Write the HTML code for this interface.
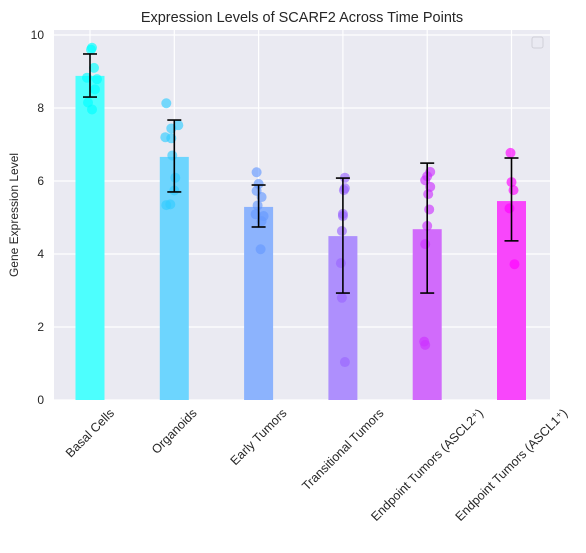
<!DOCTYPE html>
<html><head><meta charset="utf-8"><style>
body{margin:0;background:#fff;}
svg text{font-family:"Liberation Sans",Arial,sans-serif;fill:#262626;}
</style></head><body>
<svg id="chart" width="586" height="548" xmlns="http://www.w3.org/2000/svg"></svg>
<script>
const categories=["Basal Cells","Organoids","Early Tumors","Transitional Tumors","Endpoint Tumors (ASCL2\u207A)","Endpoint Tumors (ASCL1\u207A)"];
const means=[8.88,6.66,5.29,4.49,4.68,5.45];
const errLow=[8.30,5.70,4.74,2.93,2.93,4.36];
const errHigh=[9.48,7.67,5.89,6.08,6.49,6.63];
const points=[
[9.65,9.6,9.1,8.83,8.79,8.51,8.15,7.96],
[8.13,7.44,7.53,7.2,7.17,6.70,6.09,5.74,5.34,5.36],
[6.24,5.92,5.73,5.56,5.33,5.09,5.04,4.90,4.13],
[6.09,5.80,5.75,5.10,5.04,4.63,3.75,2.80,1.04],
[6.25,6.13,6.02,5.84,5.64,5.22,4.77,4.27,1.60,1.51],
[6.77,5.97,5.75,5.25,3.72]];
const jitter=[[2,1,4,-3,7,5,-2,2],[-8,-3,4,-9,-3,-2,1,0,-8,-4],[-2,0,-2,3,-1,-3,5,3,2],[2,2,1,0,0,-1,-2,-1,2],[3,0,-2,3,1,2,0,-2,-3,-2],[-1,0,2,-2,3]];
const yTicks=[0,2,4,6,8,10];
const barCol=["#4dfffe","#6dd5fe","#8cb3fd","#ae8ffd","#d16bfb","#f846fb"];
const ptCol=["#00ffff","#33ccff","#6699ff","#9966ff","#cc33ff","#ff00ff"];
const L=54,R=550,T=30,B=400;
const xs=i=>90+i*84.3;
const ys=v=>B-v*36.5;
const svg=document.getElementById('chart');
const NS="http://www.w3.org/2000/svg";
function mk(t,a,p){const e=document.createElementNS(NS,t);for(const k in a)e.setAttribute(k,a[k]);(p||svg).appendChild(e);return e;}
let e=mk('rect',{x:L,y:T,width:R-L,height:B-T,fill:'#eaeaf2'});


yTicks.forEach(v=>{
 let g=mk('line',{x1:L,x2:R,y1:ys(v),y2:ys(v),stroke:'#fff','stroke-width':1.2});
 
 
 let t=mk('text',{x:L-10,y:ys(v)+4,'text-anchor':'end','font-size':12});
 t.textContent=v;
 
 
});
categories.forEach((c,i)=>{
 let g=mk('line',{x1:xs(i),x2:xs(i),y1:T,y2:B,stroke:'#fff','stroke-width':1.2});
 
 
});
categories.forEach((c,i)=>{
 let b=mk('rect',{x:xs(i)-14.5,y:ys(means[i]),width:29,height:B-ys(means[i]),fill:barCol[i]});
 
 
 points[i].forEach((v,j)=>{
  let p=mk('circle',{cx:xs(i)+(jitter[i][j]||0),cy:ys(v),r:5,fill:ptCol[i],'fill-opacity':0.65});
  
  
 });
 let x=xs(i);
 let g=mk('g',{stroke:'#000','stroke-width':1.6});
 
 
 mk('line',{x1:x,x2:x,y1:ys(errLow[i]),y2:ys(errHigh[i])},g);
 mk('line',{x1:x-7,x2:x+7,y1:ys(errLow[i]),y2:ys(errLow[i])},g);
 mk('line',{x1:x-7,x2:x+7,y1:ys(errHigh[i]),y2:ys(errHigh[i])},g);
 let t=mk('text',{'text-anchor':'middle','font-size':12.5});
 t.textContent=c;
 
 
 const len=t.getComputedTextLength();
 const cy=B+6+len*0.354+5;
 t.setAttribute('transform',`translate(${x},${cy}) rotate(-45) translate(0,4)`);
});
let lg=mk('rect',{x:532,y:37,width:11,height:11,rx:2,fill:'#eaeaf2',stroke:'#d0d0d8'});


let tt=mk('text',{x:(L+R)/2,y:22,'text-anchor':'middle','font-size':14.5});
tt.textContent="Expression Levels of SCARF2 Across Time Points";


let yl=mk('text',{'text-anchor':'middle','font-size':12,transform:`translate(18,${(T+B)/2}) rotate(-90)`});
yl.textContent="Gene Expression Level";


</script>
</body></html>
